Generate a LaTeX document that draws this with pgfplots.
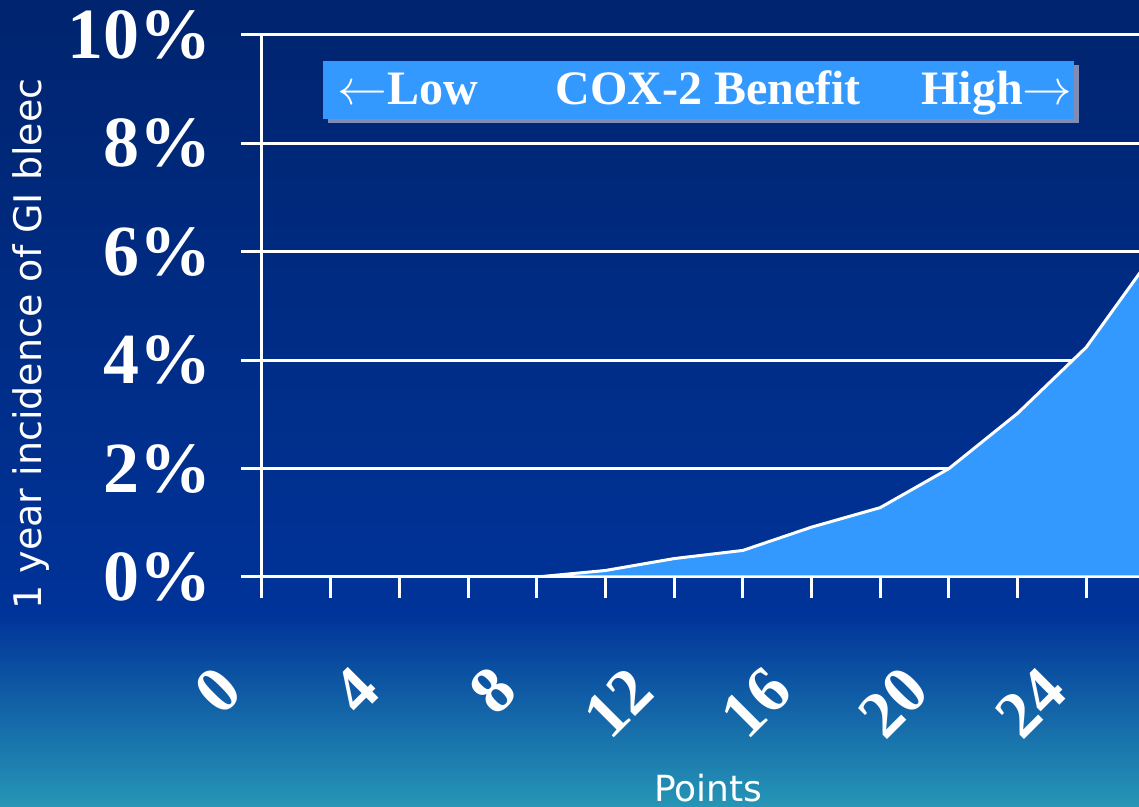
\documentclass[border=0pt]{standalone}
\usepackage{pgfplots}
\pgfplotsset{compat=1.18}
\usepackage{fontspec}
\setmainfont{Liberation Serif}
\newfontfamily\labelfont{DejaVu Sans}
\definecolor{bgtop}{RGB}{0,36,110}
\definecolor{bgmid}{RGB}{0,51,153}
\definecolor{bgbot}{RGB}{38,150,182}
\definecolor{areablue}{RGB}{51,153,255}
\definecolor{shadowc}{RGB}{128,140,180}
\begin{document}
\begin{tikzpicture}
\useasboundingbox (0,0) rectangle (569.5pt,403.5pt);
\clip (0,0) rectangle (569.5pt,403.5pt);
\shade[top color=bgtop, bottom color=bgmid] (0,96pt) rectangle (569.5pt,403.5pt);
\shade[top color=bgmid, bottom color=bgbot] (0,0) rectangle (569.5pt,96.5pt);
\begin{axis}[
  at={(131pt,115pt)}, anchor=south west,
  scale only axis, width=446.5pt, height=271pt,
  xmin=0, xmax=26, ymin=0, ymax=10,
  axis x line*=bottom, axis y line*=left,
  axis line style={white, line width=1.5pt},
  xtick={0,2,...,26}, ytick={0,2,...,10},
  xticklabels={\textbf{0},,\textbf{4},,\textbf{8},,\textbf{12},,\textbf{16},,\textbf{20},,\textbf{24},},
  yticklabels={\textbf{0\%},\textbf{2\%},\textbf{4\%},\textbf{6\%},\textbf{8\%},\textbf{10\%}},
  tick align=outside, major tick length=10.5pt,
  every tick/.style={white, line width=1.5pt},
  ymajorgrids, grid style={white, line width=1.5pt},
  tick label style={text=white, inner sep=0pt},
  yticklabel style={font=\fontsize{36}{36}\selectfont, anchor=east, xshift=-14.5pt},
  xticklabel style={font=\fontsize{33}{33}\selectfont, xshift=-16pt, yshift=-40.5pt, rotate=45, anchor=east},
  xlabel={Points},
  every axis x label/.style={at={(axis description cs:0.5,0)}, anchor=base, yshift=-112.5pt, font=\labelfont\fontsize{18}{18}\selectfont, text=white},
  ylabel={1 year incidence of GI bleec},
  every axis y label/.style={at={(axis description cs:0,0.43)}, xshift=-115.5pt, rotate=90, anchor=center, font=\labelfont\fontsize{19}{19}\selectfont, text=white},
]
\addplot[fill=areablue, draw=white, line width=1.5pt] coordinates {(0,0)(2,0)(4,0)(6,0)(8,0)(10,0.12)(12,0.34)(14,0.49)(16,0.92)(18,1.28)(20,2.0)(22,3.02)(24,4.24)(26,6.0)} \closedcycle;
\end{axis}
\fill[shadowc] (164pt,342pt) rectangle (539.5pt,371pt);
\fill[areablue] (161.5pt,344pt) rectangle (537pt,373pt);
\node[anchor=base west, inner sep=0pt, text=white, font=\bfseries\fontsize{24}{24}\selectfont] at (168.5pt,351pt) {$\leftarrow$Low};
\node[anchor=base west, inner sep=0pt, text=white, font=\bfseries\fontsize{24}{24}\selectfont] at (277.5pt,351pt) {COX-2 Benefit};
\node[anchor=base east, inner sep=0pt, text=white, font=\bfseries\fontsize{24}{24}\selectfont] at (536.5pt,351pt) {High$\rightarrow$};
\end{tikzpicture}
\end{document}
